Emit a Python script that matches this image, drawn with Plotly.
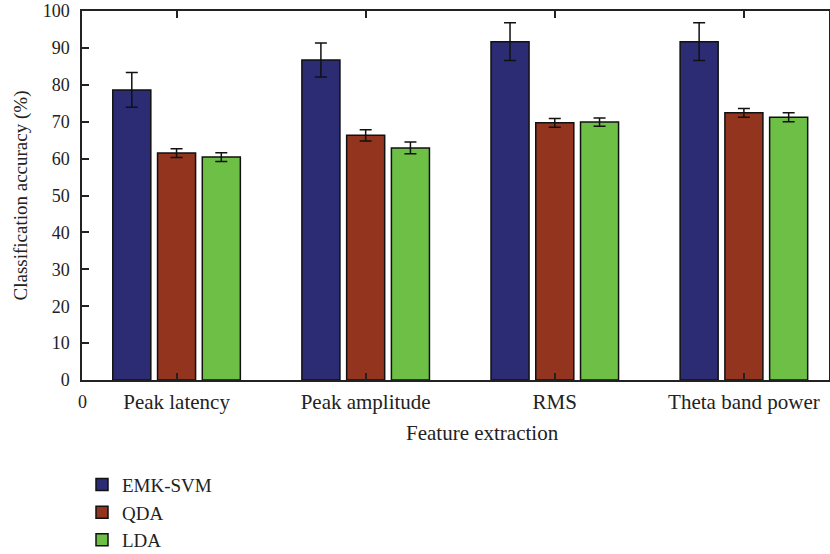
import plotly.graph_objects as go

categories = ["Peak latency", "Peak amplitude", "RMS", "Theta band power"]
series_names = ["EMK-SVM", "QDA", "LDA"]
emk_svm = [78.6, 86.7, 91.7, 91.7]
emk_svm_err = [4.7, 4.6, 5.1, 5.1]
qda = [61.5, 66.3, 69.7, 72.4]
qda_err = [1.2, 1.5, 1.2, 1.2]
lda = [60.4, 62.9, 69.9, 71.2]
lda_err = [1.2, 1.6, 1.1, 1.2]
y_ticks = list(range(0, 101, 10))

colors = ["#2b2c74", "#93341f", "#6dbf46"]
FONT = "Liberation Serif"
TXT = "#222222"

fig = go.Figure()
for name, vals, errs, col in zip(series_names, [emk_svm, qda, lda],
                                 [emk_svm_err, qda_err, lda_err], colors):
    fig.add_trace(go.Bar(
        x=categories, y=vals, name=name,
        marker=dict(color=col, line=dict(color="#111111", width=1.5)),
        error_y=dict(type="data", array=errs, visible=True,
                     color="#111111", thickness=1.5, width=6),
    ))

fig.update_layout(
    width=830, height=554,
    margin=dict(l=82, r=1, t=11, b=174, autoexpand=False),
    paper_bgcolor="white", plot_bgcolor="white",
    barmode="group", bargap=0.29, bargroupgap=0.15,
    font=dict(family=FONT, size=18, color=TXT),
    showlegend=True,
    legend=dict(x=0, xanchor="left", y=-0.232, yanchor="top",
                font=dict(family=FONT, size=19, color=TXT),
                tracegroupgap=0, itemwidth=30, bgcolor="rgba(0,0,0,0)"),
    xaxis=dict(
        type="category", range=[-0.5, 3.45], automargin=False,
        showline=True, linecolor=TXT, linewidth=1.5, mirror="ticks",
        ticks="inside", ticklen=7, tickcolor=TXT, tickwidth=1.5,
        tickfont=dict(family=FONT, size=21, color=TXT),
        ticklabelstandoff=2,
        showgrid=False, zeroline=False,
    ),
    yaxis=dict(
        range=[0, 100], tickvals=y_ticks, automargin=False,
        showline=True, linecolor=TXT, linewidth=1.5, mirror=True,
        ticks="inside", ticklen=7, tickcolor=TXT, tickwidth=1.5,
        tickfont=dict(family=FONT, size=18, color=TXT),
        ticklabelstandoff=7,
        showgrid=False, zeroline=False,
    ),
    annotations=[
        dict(text="0", xref="paper", yref="paper", x=0, y=-0.06,
             xanchor="center", yanchor="middle", showarrow=False,
             font=dict(family=FONT, size=18, color=TXT)),
        dict(text="Feature extraction", xref="paper", yref="paper",
             x=(482 - 82) / 747, y=-0.144, xanchor="center", yanchor="middle",
             showarrow=False, font=dict(family=FONT, size=21, color=TXT)),
        dict(text="Classification accuracy (%)", xref="paper", yref="paper",
             x=-62 / 747, y=0.5, xanchor="center", yanchor="middle",
             textangle=-90, showarrow=False,
             font=dict(family=FONT, size=19, color=TXT)),
    ],
)

fig.write_html("out.html",
               config={"displayModeBar": False},
               post_script="document.body.style.margin='0';document.body.style.padding='0';")
